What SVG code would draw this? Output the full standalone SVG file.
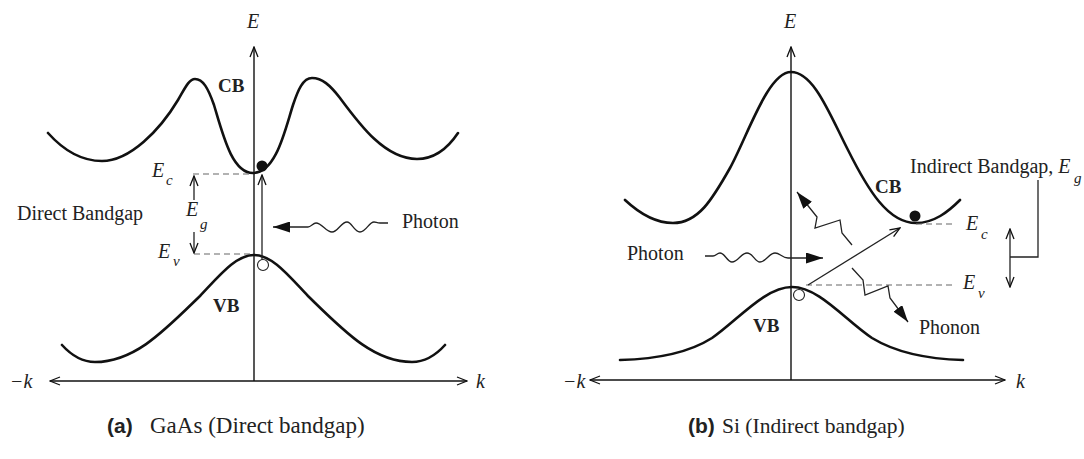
<svg xmlns="http://www.w3.org/2000/svg" width="1084" height="459" viewBox="0 0 1084 459">
<style>
.curve{fill:none;stroke:#111;stroke-width:2.6;stroke-linecap:round;stroke-linejoin:round}
.axis{fill:none;stroke:#111;stroke-width:1.4}
.thin{fill:none;stroke:#222;stroke-width:1.3;stroke-linejoin:miter}
.dash{fill:none;stroke:#666;stroke-width:1.1;stroke-dasharray:6 4}
.t{font-family:"Liberation Serif","Times New Roman",serif;font-size:20px;fill:#222}
.it{font-style:italic}
.b{font-weight:bold;font-size:19px}
.sub{font-size:15px}
.capb{font-family:"Liberation Sans",Arial,sans-serif;font-weight:bold;font-size:21px;fill:#222}
.capa{font-size:23px}
.capbb{font-size:21.5px}
.e{fill:#111}
.h{fill:#fff;stroke:#222;stroke-width:1.1}
</style>
<defs>
<marker id="open" viewBox="0 0 12 10" refX="11" refY="5" markerWidth="12" markerHeight="10" markerUnits="userSpaceOnUse" orient="auto-start-reverse">
<path d="M1,1 L11,5 L1,9" fill="none" stroke="#111" stroke-width="1.3"/>
</marker>
<marker id="fill" viewBox="0 0 17 11" refX="17" refY="5.5" markerWidth="17" markerHeight="11" markerUnits="userSpaceOnUse" orient="auto">
<path d="M0,0 L17,5.5 L0,11 z" fill="#111"/>
</marker>
</defs>
<rect width="1084" height="459" fill="#fff"/>

<g id="panel-a">
<g id="a-axes">
<path class="axis" d="M254,381 L254,47" marker-end="url(#open)"/>
<path class="axis" d="M50,381 L467,381" marker-start="url(#open)" marker-end="url(#open)"/>
<text class="t it" x="253" y="28" text-anchor="middle">E</text>
<text class="t it" x="10" y="388">−k</text>
<text class="t it" x="476" y="388">k</text>
</g>
<g id="a-cb">
<path class="curve" d="M48,133 C65,152 82,161 102,161 C130,161 160,130 178,100 C185,88 189,79 195,79 C203,79 208,88 214,105 C223,135 232,173 253,173 C276,173 285,130 293,105 C298,90 303,78 312,78 C322,78 330,85 340,98 C360,125 385,159 417,159 C435,159 448,148 458,133"/>
<text class="t b" x="218" y="92">CB</text>
</g>
<g id="a-vb">
<path class="curve" d="M62,345 C72,356 82,362 95,362 C135,362 165,330 200,296 C220,275 236,255 254,255 C272,255 288,275 308,296 C343,330 373,362 412,362 C425,362 436,355 445,345"/>
<text class="t b" x="213" y="312">VB</text>
</g>
<g id="a-electron"><circle class="e" cx="262" cy="166" r="5.5"/></g>
<g id="a-hole"><circle class="h" cx="263" cy="265" r="5.5"/></g>
<g id="a-labels">
<text class="t it" x="152" y="177">E</text><text class="t it sub" x="166" y="185">c</text>
<text class="t it" x="186" y="216">E</text><text class="t it sub" x="200" y="229">g</text>
<text class="t it" x="158" y="258">E</text><text class="t it sub" x="173" y="266">v</text>
<text class="t" x="17" y="220">Direct Bandgap</text>
<text class="t" x="402" y="228">Photon</text>
</g>
<g id="a-caption">
<text class="capb" x="107" y="433">(a)</text>
<text class="t capa" x="150" y="433">GaAs (Direct bandgap)</text>
</g>
</g>

<g id="panel-b">
<g id="b-axes">
<path class="axis" d="M791,380 L791,47" marker-end="url(#open)"/>
<path class="axis" d="M590,380 L1005,380" marker-start="url(#open)" marker-end="url(#open)"/>
<text class="t it" x="790" y="28" text-anchor="middle">E</text>
<text class="t it" x="563" y="388">−k</text>
<text class="t it" x="1016" y="388">k</text>
</g>
<g id="b-cb">
<path class="curve" d="M625,200 C640,214 656,223 673,223 C698,223 712,200 730,168 C748,135 768,72 791,72 C814,72 830,115 848,150 C868,190 888,223 916,223 C934,223 948,212 960,200"/>
<text class="t b" x="875" y="193">CB</text>
</g>
<g id="b-vb">
<path class="curve" d="M620,360 C660,359 690,352 712,338 C738,320 765,287 792,287 C819,287 845,320 872,338 C895,352 925,359 963,360"/>
<text class="t b" x="753" y="332">VB</text>
</g>
<g id="b-electron"><circle class="e" cx="915" cy="216" r="5.5"/></g>
<g id="b-hole"><circle class="h" cx="799" cy="295" r="5.5"/></g>
<g id="b-labels">
<text class="t" x="910" y="173">Indirect Bandgap, <tspan class="it">E</tspan></text><text class="t it sub" x="1074" y="183">g</text>
<text class="t it" x="966" y="230">E</text><text class="t it sub" x="981" y="239">c</text>
<text class="t it" x="963" y="289">E</text><text class="t it sub" x="978" y="298">v</text>
<text class="t" x="627" y="260">Photon</text>
<text class="t" x="919" y="334">Phonon</text>
</g>
<g id="b-caption">
<text class="capb" x="688" y="433">(b)</text>
<text class="t capbb" x="722" y="433">Si (Indirect bandgap)</text>
</g>
</g>

<g id="connectors">
<path class="dash" d="M193,174 L253,174"/>
<path class="dash" d="M194,254 L253,254"/>
<path class="thin" d="M194,200 L194,176" marker-end="url(#open)"/>
<path class="thin" d="M194,232 L194,253" marker-end="url(#open)"/>
<path class="thin" d="M262,260 L262,175" marker-end="url(#open)"/>
<path class="thin" d="M388,223 L380,223 C377,223 376,222 374,222 C369,222 366,232 360,232 C354,232 352,222 347,222 C341,222 338,232 332,232 C326,232 322,223 316,223 C313,223 311,227 308,227 L273,227" marker-end="url(#fill)"/>

<path class="dash" d="M916,224 L955,224"/>
<path class="dash" d="M806,285 L955,285"/>
<path class="thin" d="M1010,229 L1010,287" marker-start="url(#open)" marker-end="url(#open)"/>
<path class="thin" d="M1010,257 L1038,257 L1038,180"/>
<path class="thin" d="M808,285 L900,228" marker-end="url(#open)"/>
<path class="thin" d="M705,256 L713,256 C716,256 717,253 720,253 C725,253 727,262 732,262 C738,262 741,253 747,253 C753,253 755,262 760,262 C766,262 769,253 775,253 C780,253 782,258 788,258 L823,258" marker-end="url(#fill)"/>
<path class="thin" d="M852,245 L842,233 L840,220 L815,228 L817,217 L797,192" marker-end="url(#fill)"/>
<path class="thin" d="M852,268 L863,280 L865,295 L888,286 L890,298 L908,322" marker-end="url(#fill)"/>
</g>
</svg>
